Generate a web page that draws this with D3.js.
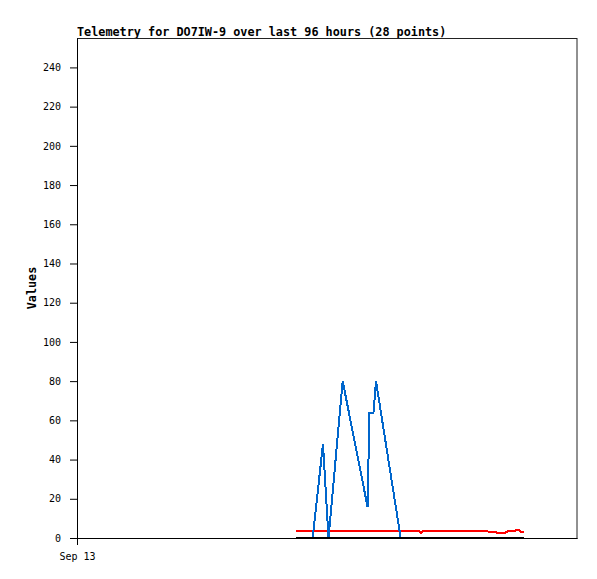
<!DOCTYPE html>
<html>
<head>
<meta charset="utf-8">
<script src="https://cdn.jsdelivr.net/npm/d3@7"></script>
<style>
  html, body { margin: 0; padding: 0; background: #fff; }
  svg { display: block; }
</style>
</head>
<body>
<script>
// ---- data ----
const title = "Telemetry for DO7IW-9 over last 96 hours (28 points)";
const yLabel = "Values";
const xTickLabels = ["Sep 13"];
const startTime = new Date(2023, 8, 13, 0, 0, 0);
const hoursFromStart = [42.05, 43.78, 45.25, 47.23, 48.29, 51.01, 55.78, 56.16, 56.93, 57.41,
  62.15, 63.94, 65.66, 66.05, 66.43, 71.62, 75.46, 78.53, 79.10, 80.26,
  80.64, 82.18, 82.75, 83.90, 84.29, 84.86, 85.25, 85.82];
const seriesBlue = [0, 0, 0, 48, 0, 80, 16, 64, 64, 80,
  0, 0, 0, 0, 0, 0, 0, 0, 0, 0,
  0, 0, 0, 0, 0, 0, 0, 0];
const seriesRed = [3.7, 3.7, 3.7, 3.7, 3.7, 3.7, 3.7, 3.7, 3.7, 3.7,
  3.7, 3.7, 3.7, 2.7, 3.7, 3.7, 3.7, 3.7, 3.2, 3.2,
  2.7, 2.7, 3.4, 3.4, 4.1, 4.0, 2.9, 2.9];
const seriesBlack = [0, 0, 0, 0, 0, 0, 0, 0, 0, 0,
  0, 0, 0, 0, 0, 0, 0, 0, 0, 0,
  0, 0, 0, 0, 0, 0, 0, 0];
const yTicks = [0, 20, 40, 60, 80, 100, 120, 140, 160, 180, 200, 220, 240];
const yMax = 255;
const spanHours = 96;

// ---- layout ----
const W = 597, H = 579;
const m = { left: 77, top: 38, right: 20, bottom: 41 };
const iw = W - m.left - m.right;   // 500
const ih = H - m.top - m.bottom;   // 500

const times = hoursFromStart.map(h => new Date(startTime.getTime() + h * 3600e3));
const endTime = new Date(startTime.getTime() + spanHours * 3600e3);

const x = d3.scaleTime().domain([startTime, endTime]).range([0, iw]);
const y = d3.scaleLinear().domain([0, yMax]).range([ih, 0]);

const svg = d3.select("body").append("svg").attr("width", W).attr("height", H);

svg.append("text")
  .attr("x", m.left).attr("y", 35.5)
  .attr("font-family", "DejaVu Sans Mono")
  .attr("font-weight", "bold")
  .attr("font-size", "11.8px")
  .attr("fill", "#000")
  .text(title);

const g = svg.append("g").attr("transform", `translate(${m.left},${m.top})`);

// frame
g.append("rect")
  .attr("x", 0.5).attr("y", 0.5).attr("width", iw - 0.5).attr("height", ih)
  .attr("fill", "none").attr("stroke", "#222").attr("stroke-width", 1);

// y axis
const yAxis = g.append("g")
  .call(d3.axisLeft(y).tickValues(yTicks).tickSize(7).tickPadding(9).tickSizeOuter(0));
yAxis.selectAll("text").attr("font-family", "DejaVu Sans Mono").attr("font-size", "10px").attr("fill", "#000");
yAxis.select(".domain").attr("stroke", "#000");

// x axis
const xAxis = g.append("g").attr("transform", `translate(0,${ih})`)
  .call(d3.axisBottom(x).tickValues([startTime]).tickFormat((d, i) => xTickLabels[i])
    .tickSize(7).tickPadding(8).tickSizeOuter(0));
xAxis.selectAll("text").attr("font-family", "DejaVu Sans Mono").attr("font-size", "10px").attr("fill", "#000");
xAxis.select(".domain").attr("stroke", "#000");

// y label
svg.append("text")
  .attr("transform", `translate(36,${m.top + ih / 2}) rotate(-90)`)
  .attr("text-anchor", "middle")
  .attr("font-family", "DejaVu Sans Mono")
  .attr("font-weight", "bold")
  .attr("font-size", "11.8px")
  .attr("fill", "#000")
  .text(yLabel);

// lines
const plot = g.append("g");
const mk = vals => d3.line().x((d, i) => x(times[i])).y(d => y(d))(vals);
[[seriesRed, "#ff0000"], [seriesBlue, "#0066cc"], [seriesBlack, "#000000"]].forEach(([vals, col]) => {
  plot.append("path")
    .attr("d", mk(vals))
    .attr("fill", "none")
    .attr("stroke", col)
    .attr("stroke-width", 2)
    .attr("shape-rendering", "crispEdges");
});
</script>
</body>
</html>
